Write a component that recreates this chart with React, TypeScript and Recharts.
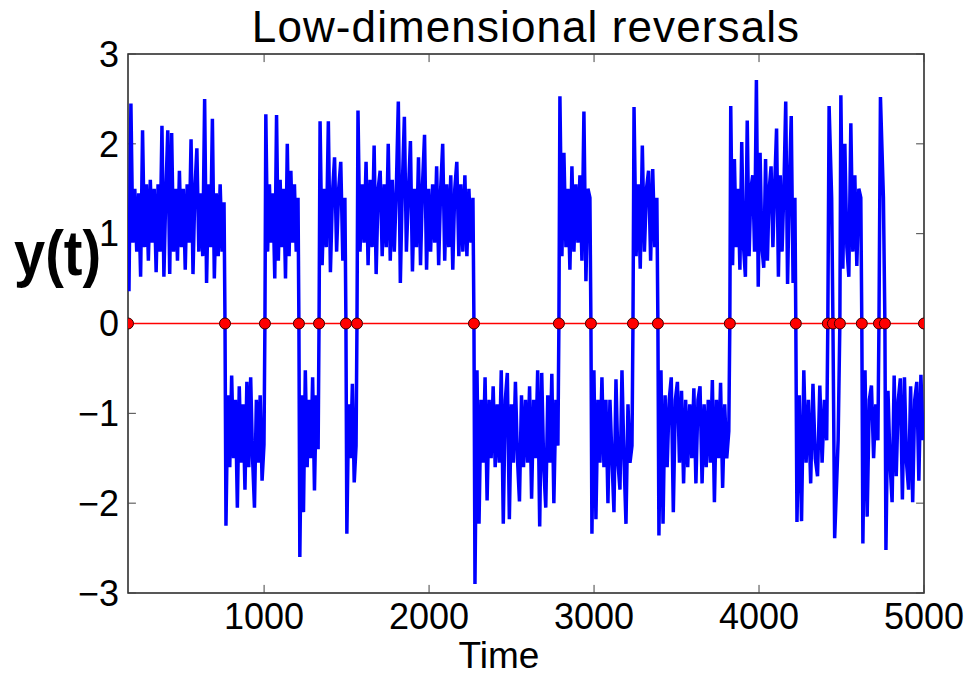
import React from 'react';
import { LineChart, Line, XAxis, YAxis, ReferenceArea, ReferenceLine } from 'recharts';

const tStart = 175;
const tEnd = 5000;

// times where y(t) changes sign (red markers)
const crossings = [763, 1005, 1211, 1333, 1496, 1563, 2272, 2787, 2981, 3236, 3387, 3823, 4223, 4417, 4448, 4490, 4623, 4727, 4763];

// signal values read between consecutive crossings
const seg01 = [0.36, 2.45, 0.9, 1.5, 0.8, 1.45, 0.52, 2.15, 0.85, 1.55, 0.7, 1.6, 0.9, 1.5, 0.57, 1.55, 0.8, 2.2, 0.52, 1.45, 2.15, 0.55, 2.12, 0.8, 1.5, 0.7, 1.7, 0.85, 1.5, 0.6, 1.55, 0.9, 2.05, 0.55, 1.5, 1.95, 0.8, 1.45, 0.75, 2.5, 0.45, 1.55, 0.85, 2.28, 0.5, 1.45, 0.75, 1.55, 0.8, 1.35];
const seg02 = [-2.25, -0.8, -1.6, -0.58, -1.5, -0.85, -2.05, -0.7, -1.55, -0.9, -1.85, -0.65, -1.6, -0.6, -1.5, -2.05, -0.85, -1.55, -0.8, -1.75, -1.35];
const seg03 = [2.33, 0.8, 1.55, 0.9, 1.45, 0.5, 2.32, 0.7, 1.6, 0.85, 1.5, 0.5, 2.0, 0.75, 1.7, 0.9, 1.55, 0.8, 1.4];
const seg04 = [-2.6, -0.8, -2.1, -0.52, -1.6, -0.85, -1.5, -0.6, -1.86, -0.8, -1.4];
const seg05 = [2.25, 0.65, 1.5, 0.85, 2.25, 0.57, 1.45, 1.85, 0.8, 1.5, 1.8, 0.7, 1.4];
const seg06 = [-2.34, -0.9, -1.5, -0.67, -1.77, -1.36];
const seg07 = [2.37, 0.8, 1.55, 0.9, 1.8, 0.65, 1.6, 0.85, 1.98, 0.55, 1.5, 1.7, 0.75, 1.55, 0.85, 2.0, 0.7, 1.6, 0.8, 1.5, 2.47, 0.45, 1.55, 2.3, 0.8, 1.45, 2.03, 0.58, 1.5, 0.85, 1.85, 0.65, 1.55, 2.1, 0.6, 1.5, 0.8, 1.55, 0.9, 1.75, 0.65, 1.5, 2.0, 0.7, 1.55, 0.85, 1.65, 0.6, 1.5, 1.8, 0.75, 1.55, 0.8, 1.65, 0.75, 1.5, 0.9, 1.4];
const seg08 = [-2.9, -0.52, -2.23, -0.85, -1.55, -0.6, -1.97, -0.85, -1.5, -0.7, -1.6, -0.9, -1.55, -0.52, -2.23, -0.85, -0.55, -2.18, -0.9, -1.55, -0.65, -1.5, -1.98, -0.8, -1.6, -0.85, -1.55, -0.7, -1.95, -0.85, -1.5, -0.52, -2.26, -0.55, -1.6, -2.05, -0.8, -1.55, -0.56, -2.0, -0.85, -1.36];
const seg09 = [2.53, 0.75, 1.9, 0.85, 1.5, 0.6, 1.75, 0.8, 1.55, 0.9, 1.65, 0.7, 2.36, 0.47, 1.5, 1.4];
const seg10 = [-2.34, -0.52, -2.18, -0.85, -1.55, -0.6, -1.6, -0.85, -2.0, -0.85, -1.5, -2.1, -0.62, -1.55, -1.85, -0.52, -1.5, -2.23, -0.9, -1.55, -1.36];
const seg11 = [2.41, 0.75, 1.55, 0.61, 1.98, 0.8, 1.5, 1.7, 0.7, 1.72, 0.85, 1.4];
const seg12 = [-2.36, -0.52, -2.23, -0.8, -1.6, -0.85, -0.6, -2.1, -0.85, -0.65, -1.55, -0.75, -1.78, -0.85, -1.6, -0.9, -1.5, -0.72, -1.78, -0.85, -0.7, -1.78, -0.9, -1.6, -0.85, -1.55, -0.63, -1.99, -0.85, -1.5, -0.66, -1.83, -0.9, -1.5, -1.2];
const seg13 = [2.42, 0.65, 1.83, 0.85, 1.5, 0.6, 2.02, 0.85, 0.52, 2.26, 0.75, 1.5, 1.65, 0.8, 2.71, 0.41, 1.9, 0.85, 0.62, 1.83, 0.7, 1.5, 1.75, 0.85, 1.55, 2.17, 0.52, 1.65, 0.8, 1.5, 2.47, 0.44, 1.55, 2.31, 0.45, 1.4];
const seg14 = [-2.21, -0.8, -2.2, -0.52, -1.55, -0.85, -1.78, -0.67, -1.5, -1.7, -0.69, -1.55, -0.85, -1.3];
const seg15 = [2.42, 1.4];
const seg16 = [-2.39, -1.3];
const seg17 = [2.54, 0.61, 2.0, 0.85, 0.52, 2.23, 0.8, 1.65, 0.64, 1.5, 1.4];
const seg18 = [-2.45, -0.52, -2.15, -0.85, -0.69, -1.5, -0.9, -1.3];
const seg19 = [2.52, 1.4];
const seg20 = [-2.52, -0.75, -1.55, -1.99, -0.58, -1.7, -0.85, -0.61, -1.96, -0.6, -1.55, -1.85, -0.7, -1.99, -0.85, -0.65, -1.75, -0.57, -1.3];

const xTicks = [1000, 2000, 3000, 4000, 5000];
const yTicks = [-3, -2, -1, 0, 1, 2, 3];

const segments = [seg01, seg02, seg03, seg04, seg05, seg06, seg07, seg08, seg09, seg10,
  seg11, seg12, seg13, seg14, seg15, seg16, seg17, seg18, seg19, seg20];
const bounds = [tStart, ...crossings, tEnd];

// samples spread evenly over each segment, line passes through 0 at each crossing
const signal: { t: number; y: number }[] = [];
segments.forEach((vals, i) => {
  const a = bounds[i];
  const b = bounds[i + 1];
  if (i > 0) signal.push({ t: a, y: 0 });
  vals.forEach((v, k) => signal.push({ t: a + ((k + 0.5) * (b - a)) / vals.length, y: v }));
});
const zeroPoints = bounds.map((t) => ({ t, y: 0 }));

const FONT = '"Liberation Sans", Arial, Helvetica, sans-serif';
const TICK_LEN_Y = 0.09; // ~8px in y units
const TICK_LEN_X = 48; // ~8px in time units

const fmtY = (v: number) => (v < 0 ? `\u2212${Math.abs(v)}` : `${v}`);

export default function App() {
  return (
    <div style={{ position: 'absolute', left: 0, top: 0, width: 974, height: 675, background: '#fff', fontFamily: FONT }}>
      <LineChart
        width={974}
        height={675}
        data={signal}
        margin={{ top: 54, right: 50, left: 0, bottom: 0 }}
        style={{ fontFamily: FONT }}
      >
        <XAxis
          dataKey="t"
          type="number"
          domain={[tStart, tEnd]}
          ticks={xTicks}
          allowDataOverflow
          tickLine={false}
          axisLine={false}
          tickSize={0}
          tickMargin={10}
          height={82}
          tick={{ fontSize: 36, fill: '#000', fontFamily: FONT }}
        />
        <YAxis
          type="number"
          domain={[-3, 3]}
          ticks={yTicks}
          allowDataOverflow
          tickLine={false}
          axisLine={false}
          tickSize={0}
          tickMargin={9}
          width={128}
          tickFormatter={fmtY}
          tick={{ fontSize: 36, fill: '#000', fontFamily: FONT }}
        />
        {xTicks.map((t) => (
          <ReferenceLine key={'xb' + t} segment={[{ x: t, y: -3 }, { x: t, y: -3 + TICK_LEN_Y }]} stroke="#444" strokeWidth={1} />
        ))}
        {xTicks.map((t) => (
          <ReferenceLine key={'xt' + t} segment={[{ x: t, y: 3 }, { x: t, y: 3 - TICK_LEN_Y }]} stroke="#444" strokeWidth={1} />
        ))}
        {yTicks.map((v) => (
          <ReferenceLine key={'yl' + v} segment={[{ x: tStart, y: v }, { x: tStart + TICK_LEN_X, y: v }]} stroke="#444" strokeWidth={1} />
        ))}
        {yTicks.map((v) => (
          <ReferenceLine key={'yr' + v} segment={[{ x: tEnd, y: v }, { x: tEnd - TICK_LEN_X, y: v }]} stroke="#444" strokeWidth={1} />
        ))}
        <Line
          type="linear"
          dataKey="y"
          stroke="#0000ff"
          strokeWidth={3.5}
          dot={false}
          activeDot={false}
          isAnimationActive={false}
        />
        <Line
          type="linear"
          data={zeroPoints}
          dataKey="y"
          stroke="#ff0000"
          strokeWidth={1.5}
          dot={{ r: 5.5, fill: '#ff0000', stroke: '#3a0000', strokeWidth: 1 }}
          activeDot={false}
          isAnimationActive={false}
        />
        <ReferenceArea x1={tStart} x2={tEnd} y1={-3} y2={3} fill="none" stroke="#222" strokeWidth={1.5} />
      </LineChart>
      <div style={{ position: 'absolute', left: 526, top: 5, transform: 'translateX(-50%)', fontSize: 44, lineHeight: '44px', letterSpacing: 1.1, whiteSpace: 'nowrap', color: '#000' }}>
        Low-dimensional reversals
      </div>
      <div style={{ position: 'absolute', left: 14, top: 222, fontSize: 56, lineHeight: '56px', fontWeight: 'bold', color: '#000', transform: 'scaleY(1.12)', transformOrigin: 'left top' }}>
        y(t)
      </div>
      <div style={{ position: 'absolute', left: 499, top: 637, transform: 'translateX(-50%)', fontSize: 37, lineHeight: '37px', color: '#000' }}>
        Time
      </div>
    </div>
  );
}
